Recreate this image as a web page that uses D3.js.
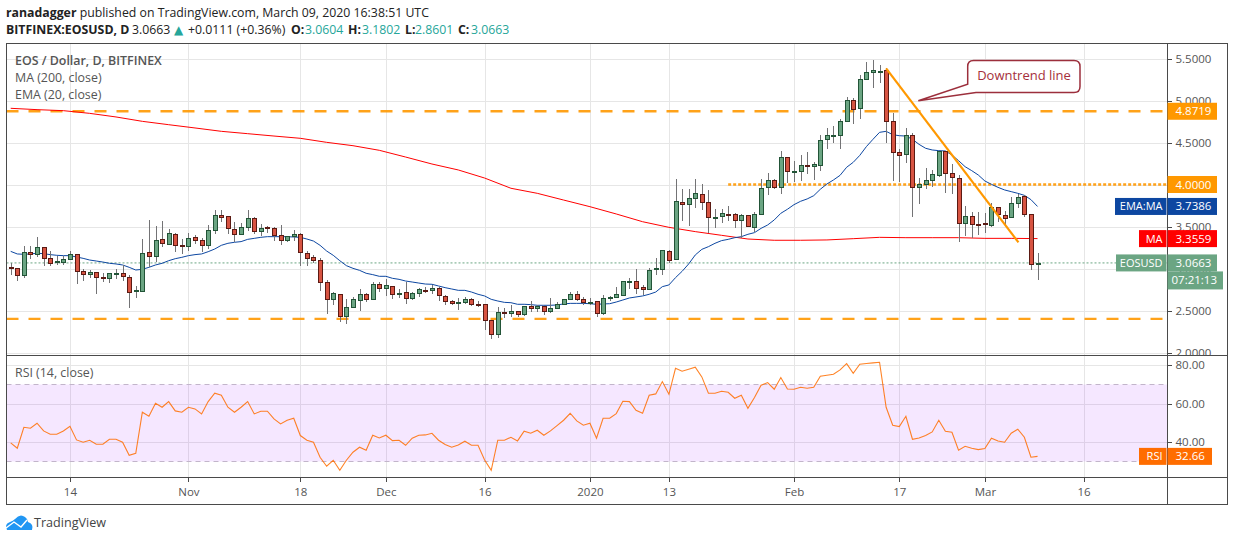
<!DOCTYPE html>
<html>
<head>
<meta charset="utf-8">
<script src="https://d3js.org/d3.v7.min.js"></script>
<style>
  html, body { margin: 0; padding: 0; background: #fff; }
  svg { display: block; }
  text { font-family: "Open Sans", "Noto Sans", sans-serif; }
</style>
</head>
<body>
<div id="chart"></div>
<script>
// daily candles, 5 Oct 2019 to 9 Mar 2020
const firstDay = "2019-10-05";
const opens = [
  3.014,3.002,2.915,3.193,3.165,3.252,3.121,3.069,3.069,3.105,
  3.169,2.966,2.927,2.954,2.895,2.879,2.939,2.943,2.895,2.724,
  2.724,3.193,3.141,3.347,3.284,3.407,3.276,3.260,3.371,3.335,
  3.272,3.454,3.633,3.621,3.466,3.403,3.486,3.597,3.439,3.490,
  3.478,3.395,3.331,3.379,3.407,3.181,3.133,3.097,2.835,2.629,
  2.693,2.427,2.538,2.617,2.693,2.629,2.812,2.760,2.788,2.689,
  2.716,2.641,2.700,2.740,2.736,2.764,2.669,2.609,2.585,2.593,
  2.633,2.574,2.574,2.383,2.212,2.478,2.462,2.490,2.450,2.550,
  2.522,2.550,2.486,2.522,2.578,2.629,2.693,2.633,2.585,2.609,
  2.462,2.653,2.653,2.677,2.843,2.847,2.776,2.748,2.986,2.986,
  3.205,3.105,3.788,3.760,3.832,3.883,3.788,3.601,3.617,3.649,
  3.645,3.570,3.633,3.486,3.645,3.962,4.050,3.962,4.324,4.149,
  4.153,4.228,4.212,4.224,4.534,4.581,4.581,4.752,5.002,4.903,
  5.248,5.331,5.343,5.359,4.752,4.383,4.359,4.585,3.962,3.998,
  4.050,4.105,4.395,4.133,4.074,3.534,3.621,3.526,3.542,3.510,
  3.728,3.633,3.605,3.776,3.863,3.645,3.0604
];
const highs = [
  3.062,3.002,3.268,3.268,3.375,3.260,3.208,3.153,3.149,3.208,
  3.177,2.994,2.982,2.954,2.950,2.947,2.994,3.038,2.923,2.792,
  3.351,3.577,3.506,3.565,3.466,3.427,3.351,3.423,3.399,3.359,
  3.518,3.696,3.696,3.629,3.554,3.538,3.696,3.609,3.530,3.506,
  3.490,3.518,3.387,3.458,3.419,3.208,3.161,3.121,2.863,2.716,
  2.697,2.637,2.665,2.756,2.704,2.843,2.839,2.875,2.792,2.756,
  2.843,2.716,2.764,2.776,2.804,2.776,2.681,2.629,2.645,2.657,
  2.645,2.617,2.574,2.383,2.538,2.526,2.566,2.498,2.558,2.609,
  2.562,2.554,2.649,2.601,2.633,2.724,2.732,2.657,2.649,2.609,
  2.681,2.677,2.780,2.855,2.887,2.994,2.804,3.006,3.125,3.216,
  3.216,4.066,3.947,3.943,4.066,4.006,3.935,3.709,3.709,3.744,
  3.657,3.645,3.641,3.669,4.066,4.133,4.062,4.395,4.331,4.280,
  4.347,4.387,4.264,4.589,4.669,4.697,4.780,5.038,5.026,5.304,
  5.454,5.478,5.427,5.383,4.847,4.423,4.673,4.609,4.074,4.193,
  4.173,4.403,4.395,4.240,4.109,3.744,3.673,3.673,3.657,3.776,
  3.736,3.685,3.855,3.887,3.871,3.645,3.1802
];
const lows = [
  2.923,2.851,2.891,3.113,3.133,3.030,3.030,3.042,3.046,3.097,
  2.820,2.851,2.891,2.697,2.839,2.831,2.879,2.851,2.534,2.653,
  2.724,3.014,3.077,3.260,3.280,3.200,3.173,3.212,3.296,3.196,
  3.232,3.411,3.558,3.411,3.316,3.399,3.450,3.411,3.391,3.427,
  3.331,3.284,3.316,3.331,3.030,3.030,3.062,2.736,2.458,2.566,
  2.363,2.339,2.534,2.498,2.605,2.625,2.724,2.673,2.633,2.653,
  2.578,2.629,2.665,2.708,2.697,2.613,2.566,2.566,2.506,2.578,
  2.558,2.538,2.268,2.165,2.177,2.411,2.419,2.427,2.435,2.486,
  2.482,2.447,2.466,2.514,2.578,2.625,2.617,2.570,2.562,2.423,
  2.443,2.617,2.649,2.673,2.760,2.693,2.685,2.744,2.923,2.923,
  3.062,3.105,3.566,3.506,3.724,3.697,3.419,3.482,3.542,3.566,
  3.482,3.359,3.490,3.431,3.641,3.875,3.951,3.887,4.014,4.026,
  4.042,4.125,4.054,4.165,4.423,4.494,4.423,4.748,4.720,4.780,
  5.248,5.153,5.204,4.494,4.042,4.030,4.252,3.617,3.768,3.947,
  3.974,4.086,3.895,3.887,3.320,3.387,3.359,3.399,3.423,3.498,
  3.558,3.518,3.605,3.717,3.617,2.986,2.8601
];
const closes = [
  2.998,2.915,3.193,3.169,3.252,3.117,3.062,3.085,3.109,3.169,
  2.962,2.927,2.954,2.891,2.887,2.943,2.943,2.903,2.712,2.740,
  3.181,3.141,3.335,3.296,3.419,3.272,3.260,3.359,3.331,3.272,
  3.454,3.633,3.605,3.474,3.403,3.490,3.597,3.439,3.478,3.474,
  3.391,3.331,3.383,3.407,3.189,3.117,3.093,2.835,2.633,2.704,
  2.427,2.538,2.633,2.693,2.629,2.812,2.760,2.800,2.689,2.704,
  2.641,2.704,2.752,2.728,2.764,2.677,2.605,2.581,2.597,2.633,
  2.570,2.566,2.383,2.212,2.478,2.462,2.490,2.450,2.550,2.522,
  2.550,2.486,2.526,2.574,2.633,2.693,2.629,2.593,2.601,2.462,
  2.645,2.661,2.693,2.847,2.847,2.760,2.748,2.978,3.002,3.216,
  3.094,3.800,3.760,3.836,3.895,3.784,3.605,3.609,3.657,3.641,
  3.570,3.633,3.498,3.645,3.955,4.050,3.962,4.324,4.153,4.157,
  4.228,4.216,4.240,4.526,4.585,4.585,4.752,5.002,4.891,5.252,
  5.335,5.359,5.347,4.752,4.379,4.343,4.585,3.966,4.002,4.050,
  4.121,4.395,4.129,4.082,3.534,3.621,3.522,3.514,3.534,3.728,
  3.641,3.593,3.776,3.847,3.653,3.050,3.0663
];
// EMA 20, one value per candle
const ema20 = [
  3.204,3.173,3.169,3.173,3.181,3.177,3.165,3.157,3.153,3.153,
  3.137,3.121,3.101,3.089,3.077,3.062,3.054,3.042,3.014,2.982,
  2.990,3.014,3.042,3.062,3.093,3.117,3.133,3.153,3.165,3.173,
  3.200,3.232,3.276,3.300,3.312,3.320,3.347,3.359,3.371,3.379,
  3.379,3.379,3.379,3.375,3.371,3.351,3.327,3.276,3.208,3.157,
  3.093,3.034,3.002,2.978,2.943,2.927,2.907,2.907,2.883,2.871,
  2.851,2.839,2.827,2.815,2.812,2.792,2.772,2.756,2.740,2.740,
  2.720,2.693,2.673,2.633,2.613,2.597,2.593,2.574,2.574,2.570,
  2.562,2.562,2.562,2.566,2.578,2.585,2.585,2.585,2.581,2.574,
  2.578,2.581,2.601,2.625,2.649,2.661,2.673,2.693,2.720,2.784,
  2.804,2.891,2.966,3.054,3.161,3.228,3.260,3.300,3.332,3.347,
  3.367,3.379,3.407,3.427,3.478,3.518,3.578,3.657,3.705,3.760,
  3.800,3.828,3.867,3.943,4.006,4.054,4.109,4.205,4.264,4.347,
  4.451,4.538,4.621,4.633,4.593,4.581,4.577,4.538,4.478,4.431,
  4.411,4.403,4.399,4.351,4.284,4.212,4.165,4.113,4.042,4.002,
  3.966,3.935,3.915,3.895,3.871,3.820,3.7386
];
// MA 200, read every fourth candle because the line is so smooth
const ma200Index = [0,4,8,12,16,20,24,28,32,36,40,44,48,52,56,60,64,68,72,76,80,84,88,92,96,100,104,108,112,116,120,124,128,132,136,140,144,148,152,156];
const ma200 = [
  4.907,4.891,4.879,4.847,4.804,4.752,4.712,4.673,4.633,4.605,
  4.577,4.550,4.502,4.462,4.407,4.327,4.244,4.173,4.077,3.955,
  3.895,3.815,3.736,3.649,3.557,3.490,3.439,3.395,3.351,3.336,
  3.336,3.340,3.355,3.371,3.367,3.367,3.367,3.359,3.359,3.3559
];
const rsi14 = [
  39.65,36.88,47.79,47.27,49.87,45.89,44.16,44.16,45.89,48.31,
  41.21,40.00,41.04,38.96,38.96,41.56,41.56,40.00,33.25,34.28,
  55.58,53.51,60.26,58.18,61.12,56.28,55.58,58.18,57.32,54.72,
  61.12,65.45,64.41,58.18,55.58,58.18,61.12,54.72,56.10,56.10,
  52.12,49.52,51.43,52.47,43.47,41.04,40.00,32.21,27.53,30.65,
  25.45,30.65,34.81,37.40,35.84,43.64,42.25,43.64,40.87,41.04,
  38.44,42.08,43.64,43.81,44.67,41.04,38.79,37.40,38.62,40.52,
  38.44,38.44,30.82,25.45,41.04,41.04,42.60,40.69,45.71,44.67,
  46.23,43.64,45.89,48.66,51.43,55.06,51.08,48.83,49.87,42.08,
  52.47,52.47,54.89,61.30,61.12,56.62,55.06,64.41,65.11,71.51,
  64.93,78.44,76.88,77.92,78.96,73.94,65.45,65.45,66.49,65.97,
  62.86,64.41,57.66,63.20,69.61,71.00,67.53,73.59,67.70,67.53,
  68.57,68.05,68.57,74.29,74.81,75.32,77.57,80.87,75.84,80.52,
  80.87,81.21,81.56,58.18,48.83,48.14,53.51,41.56,42.25,43.47,
  45.37,51.43,45.71,45.19,35.84,37.92,36.88,36.19,36.71,42.08,
  40.69,40.00,44.67,46.75,42.60,32.21,32.66
];

const timeTickDates = ["2019-10-14","2019-11-01","2019-11-18","2019-12-01","2019-12-16","2020-01-01","2020-01-13","2020-02-01","2020-02-17","2020-03-01","2020-03-16"];
const timeTickLabels = ["14","Nov","18","Dec","16","2020","13","Feb","17","Mar","16"];
const priceTicks = [2, 2.5, 3, 3.5, 4, 4.5, 5, 5.5];
const priceLabelTicks = [2, 2.5, 3, 3.5, 4.5, 5, 5.5]; // 4.0000 sits fully under its orange tag
const rsiTicks = [40, 60, 80];
const trendFrom = { day: 133, price: 5.383 };
const trendTo = { day: 153.1, price: 3.312 };

const lastPrice = 3.0663, resistance = 4.8719, midLevel = 4.0, support = 2.4001;
const emaLast = 3.7386, maLast = 3.3559, rsiLast = 32.66;

const W = 1234, H = 541;
const left = 6.5, axisX = 1167.5, right = 1227.5;
const top1 = 43.5, sep = 355.5, bottom2 = 477.5, bottom = 504.5;

const upFill = "#6ba583", downFill = "#d75442", upBorder = "#225437", downBorder = "#5b1a13", wick = "#737375";
const orange = "#ff9800", grid = "#e6e6e6", frame = "#4a4a4a", teal = "#26a69a";

const day = d3.utcParse("%Y-%m-%d");
const dayMs = 86400000;
const d0 = day(firstDay);

const x = d3.scaleUtc().domain([d0, day("2020-03-16")]).range([10.7, 1083.6]);
const xi = i => x(new Date(d0.getTime() + i * dayMs));
const y = d3.scaleLinear().domain([2, 5.5]).range([352.5, 58.5]);
const yr = d3.scaleLinear().domain([30, 70]).range([461.5, 384.5]);

const candles = opens.map((o, i) => ({ i, o, h: highs[i], l: lows[i], c: closes[i], up: closes[i] >= o }));

const svg = d3.select("#chart").append("svg").attr("width", W).attr("height", H);

const defs = svg.append("defs");
defs.append("clipPath").attr("id", "clipMain").append("rect")
  .attr("x", left).attr("y", top1).attr("width", axisX - left).attr("height", sep - top1);
defs.append("clipPath").attr("id", "clipRsi").append("rect")
  .attr("x", left).attr("y", sep).attr("width", axisX - left).attr("height", bottom2 - sep);
defs.append("clipPath").attr("id", "clipAxis").append("rect")
  .attr("x", axisX).attr("y", top1).attr("width", right - axisX).attr("height", sep - top1);

// header, the pieces of the second line are placed one by one like the original
const head = svg.append("g").style("font-size", "12.3px").attr("fill", "#222");
const l1 = head.append("text").attr("x", 6).attr("y", 17);
l1.append("tspan").attr("font-weight", 700).text("ranadagger");
l1.append("tspan").text(" published on TradingView.com, March 09, 2020 16:38:51 UTC");
const headerBits = [
  ["BITFINEX:EOSUSD, D", 6, "#222", 700],
  ["3.0663", 132, "#222", 400],
  ["+0.0111 (+0.36%)", 188, "#222", 400],
  ["O:", 291, "#222", 700], ["3.0604", 305, teal, 400],
  ["H:", 348, "#222", 700], ["3.1802", 362, teal, 400],
  ["L:", 405, "#222", 700], ["2.8601", 415, teal, 400],
  ["C:", 458, "#222", 700], ["3.0663", 471, teal, 400]
];
head.selectAll("text.bit").data(headerBits).join("text").attr("class", "bit")
  .attr("x", d => d[1]).attr("y", 34).attr("fill", d => d[2]).attr("font-weight", d => d[3]).text(d => d[0]);
head.append("text").attr("x", 174).attr("y", 34).attr("fill", teal)
  .style("font-family", "'DejaVu Sans'").style("font-size", "12px").text("▲");

// grid lines in both panes
const gridG = svg.append("g").attr("stroke", grid).attr("stroke-width", 1).attr("shape-rendering", "crispEdges");
gridG.append("g").attr("clip-path", "url(#clipMain)").selectAll("line").data(priceTicks).join("line")
  .attr("x1", left).attr("x2", axisX).attr("y1", d => Math.round(y(d)) + 0.5).attr("y2", d => Math.round(y(d)) + 0.5);
gridG.append("g").selectAll("line").data(rsiTicks).join("line")
  .attr("x1", left).attr("x2", axisX).attr("y1", d => Math.round(yr(d)) + 0.5).attr("y2", d => Math.round(yr(d)) + 0.5);
gridG.append("g").selectAll("line").data(timeTickDates).join("line")
  .attr("x1", d => Math.round(x(day(d))) + 0.5).attr("x2", d => Math.round(x(day(d))) + 0.5)
  .attr("y1", top1).attr("y2", bottom2);

// RSI band
svg.append("rect").attr("x", left).attr("width", axisX - left)
  .attr("y", yr(70)).attr("height", yr(30) - yr(70)).attr("fill", "#9915ff").attr("fill-opacity", 0.1);
svg.append("g").attr("stroke", "#c2b5ca").attr("stroke-dasharray", "5,4").selectAll("line").data([30, 70]).join("line")
  .attr("x1", left).attr("x2", axisX).attr("y1", d => yr(d)).attr("y2", d => yr(d));

const main = svg.append("g").attr("clip-path", "url(#clipMain)");

// horizontal levels
main.append("g").attr("stroke", orange).attr("stroke-width", 2.4).attr("stroke-opacity", 0.9)
  .attr("stroke-dasharray", "12,10").selectAll("line").data([resistance, support]).join("line")
  .attr("x1", left).attr("x2", axisX).attr("y1", d => y(d)).attr("y2", d => y(d));
main.append("line").attr("stroke", orange).attr("stroke-width", 2.4).attr("stroke-opacity", 0.9)
  .attr("stroke-dasharray", "3,2").attr("x1", xi(109)).attr("x2", axisX).attr("y1", y(midLevel)).attr("y2", y(midLevel));
main.append("line").attr("stroke", upFill).attr("stroke-dasharray", "2,2")
  .attr("x1", left).attr("x2", axisX).attr("y1", y(lastPrice)).attr("y2", y(lastPrice));

// moving averages
const emaLine = d3.line().x((d, i) => xi(i)).y(d => y(d));
const maLine = d3.line().x((d, i) => xi(ma200Index[i])).y(d => y(d));
main.append("path").datum(ma200).attr("d", maLine).attr("fill", "none").attr("stroke", "#ff0000").attr("stroke-width", 1);
main.append("path").datum(ema20).attr("d", emaLine).attr("fill", "none").attr("stroke", "#0d47a1").attr("stroke-width", 1);

// candles
const snap = v => Math.round(v) + 0.5;
const cg = main.append("g").selectAll("g").data(candles).join("g").attr("shape-rendering", "crispEdges");
cg.append("line").attr("stroke", wick)
  .attr("x1", d => snap(xi(d.i))).attr("x2", d => snap(xi(d.i)))
  .attr("y1", d => y(d.h)).attr("y2", d => y(d.l));
cg.append("rect")
  .attr("x", d => snap(xi(d.i)) - 2).attr("width", 4)
  .attr("y", d => snap(y(Math.max(d.o, d.c))))
  .attr("height", d => Math.max(1, Math.round(Math.abs(y(d.o) - y(d.c)))))
  .attr("fill", d => d.up ? upFill : downFill)
  .attr("stroke", d => d.up ? upBorder : downBorder);

// trend line
main.append("line").attr("stroke", orange).attr("stroke-width", 2.2)
  .attr("x1", xi(trendFrom.day)).attr("y1", y(trendFrom.price))
  .attr("x2", xi(trendTo.day)).attr("y2", y(trendTo.price));

// callout
svg.append("path")
  .attr("d", "M973.5,60.5 H1074 Q1080,60.5 1080,66.5 V86.5 Q1080,92.5 1074,92.5 H976 L918.3,100.7 L967.7,84.3 V66.5 Q967.7,60.5 973.5,60.5 Z")
  .attr("fill", "#fff").attr("stroke", "#9c2f3c").attr("stroke-width", 1.5);
svg.append("text").attr("x", 1024).attr("y", 80).attr("text-anchor", "middle")
  .style("font-size", "13px").attr("fill", "#a5303c").text("Downtrend line");

// pane legends
const legend = svg.append("g").style("font-size", "12.4px").attr("fill", "#555");
legend.append("text").attr("x", 15).attr("y", 65).attr("font-weight", 600).text("EOS / Dollar, D, BITFINEX");
legend.append("text").attr("x", 15).attr("y", 82).text("MA (200, close)");
legend.append("text").attr("x", 15).attr("y", 99).text("EMA (20, close)");
legend.append("text").attr("x", 15).attr("y", 377).text("RSI (14, close)");

// RSI line
const rsiLine = d3.line().x((d, i) => xi(i)).y(d => yr(d));
svg.append("g").attr("clip-path", "url(#clipRsi)").append("path").datum(rsi14)
  .attr("d", rsiLine).attr("fill", "none").attr("stroke", "#ff6d00").attr("stroke-width", 1.1).attr("stroke-opacity", 0.85);

// frame
const frameG = svg.append("g").attr("fill", "none").attr("stroke", frame).attr("stroke-width", 1).attr("shape-rendering", "crispEdges");
frameG.append("rect").attr("x", left).attr("y", top1).attr("width", right - left).attr("height", bottom - top1);
frameG.append("line").attr("x1", axisX).attr("x2", axisX).attr("y1", top1).attr("y2", bottom);
frameG.append("line").attr("x1", left).attr("x2", right).attr("y1", sep).attr("y2", sep);
frameG.append("line").attr("x1", left).attr("x2", right).attr("y1", bottom2).attr("y2", bottom2);

// axes
const styleAxis = g => {
  g.select(".domain").remove();
  g.selectAll("line").attr("stroke", frame).attr("shape-rendering", "crispEdges");
  g.selectAll("text").attr("fill", "#555").style("font-size", "11.5px");
};
svg.append("g").attr("transform", `translate(0,${bottom2})`)
  .call(d3.axisBottom(x).tickValues(timeTickDates.map(day)).tickSize(4).tickPadding(6)
    .tickFormat((d, i) => timeTickLabels[i])).call(styleAxis);
svg.append("g").attr("clip-path", "url(#clipAxis)")
  .append("g").attr("transform", `translate(${axisX},0)`)
  .call(d3.axisRight(y).tickValues(priceLabelTicks).tickSize(4).tickPadding(4).tickFormat(d3.format(".4f"))).call(styleAxis);
svg.append("g").attr("transform", `translate(${axisX},0)`)
  .call(d3.axisRight(yr).tickValues(rsiTicks).tickSize(4).tickPadding(4).tickFormat(d3.format(".2f"))).call(styleAxis);

// value tags on the right axis
const tag = (value, scale, text, fill, label, labelX, boxRight) => {
  const cy = scale(value);
  if (label) {
    svg.append("rect").attr("x", labelX).attr("y", cy - 8.5).attr("width", axisX - 1 - labelX).attr("height", 17).attr("fill", fill);
    svg.append("text").attr("x", axisX - 5).attr("y", cy + 4).attr("text-anchor", "end").attr("fill", "#fff")
      .style("font-size", "11px").text(label);
  }
  svg.append("rect").attr("x", axisX).attr("y", cy - 8.5).attr("width", boxRight - axisX).attr("height", 17).attr("fill", fill);
  svg.append("text").attr("x", axisX + 8).attr("y", cy + 4).attr("fill", "#fff").style("font-size", "11.5px").text(text);
};
tag(resistance, y, "4.8719", orange, null, 0, 1217);
tag(midLevel, y, "4.0000", orange, null, 0, 1217);
tag(emaLast, y, "3.7386", "#0d47a1", "EMA:MA", 1115, 1217);
tag(maLast, y, "3.3559", "#ff0000", "MA", 1139, 1217);
tag(lastPrice, y, "3.0663", upFill, "EOSUSD", 1116, 1217);
tag(rsiLast, yr, "32.66", "#ff6d00", "RSI", 1139, 1212);
svg.append("rect").attr("x", axisX).attr("y", y(lastPrice) + 8.5).attr("width", 55.5).attr("height", 18).attr("fill", upFill);
svg.append("text").attr("x", axisX + 4).attr("y", y(lastPrice) + 21.5).attr("fill", "#fff").style("font-size", "11.5px").text("07:21:13");

// logo
const logo = svg.append("g");
logo.append("path").attr("fill", "#2196f3")
  .attr("d", "M7,530 Q4,524 10,522 Q13,521 15,519 Q20,513 25,517 Q28,519 28,522 Q34,524 32,530 Z");
logo.append("path").attr("fill", "none").attr("stroke", "#fff").attr("stroke-width", 1.4)
  .attr("d", "M6,528 L14,522 L21,527 L27,520");
logo.append("text").attr("x", 34).attr("y", 527).attr("fill", "#444").style("font-size", "12.6px").text("TradingView");
</script>
</body>
</html>
